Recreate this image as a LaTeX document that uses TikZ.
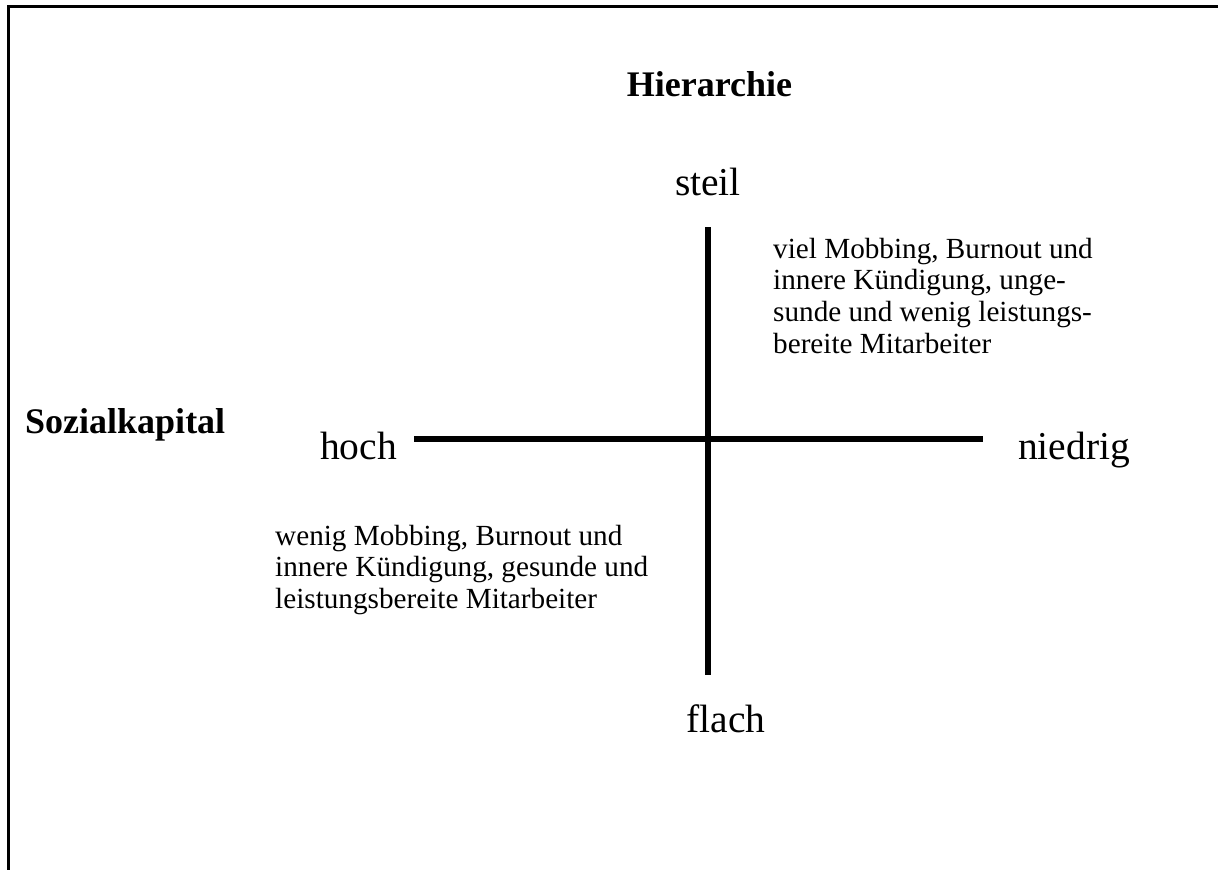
\documentclass[tikz,border=0pt]{standalone}
\usepackage{fontspec}
\setmainfont{Liberation Serif}
\begin{document}
\begin{tikzpicture}[x=1pt,y=-1pt,
  frame/.style={line width=2.5pt},
  axis/.style={line width=6pt},
  title/.style={inner sep=0pt,font=\fontsize{36}{40}\selectfont\bfseries},
  pole/.style={inner sep=0pt,font=\fontsize{39.5}{44}\selectfont},
  para/.style={inner sep=0pt,font=\fontsize{29.2}{31.7}\selectfont}]
\useasboundingbox (0,0) rectangle (1218,870);
% frame (top and left edges only)
\coordinate (fTL) at (8.5,6.3);
\coordinate (fTR) at (1220,6.3);
\coordinate (fBL) at (8.5,872);
\draw[frame] (fTR) -- (fTL) -- (fBL);
% titles
\node[title,anchor=base] (hier) at (709.5,96.7) {Hierarchie};
\node[title,anchor=base west] (sozial) at (25,433) {Sozialkapital};
% poles
\node[pole,anchor=base] (steil) at (708,195) {steil};
\node[pole,anchor=base] (flach) at (726,732) {flach};
\node[pole,anchor=base west] (hoch) at (320,459) {hoch};
\node[pole,anchor=base west] (niedrig) at (1018,459) {niedrig};
% axes
\coordinate (vtop) at (708.3,227);
\coordinate (vbot) at (708.3,675);
\coordinate (hleft) at (414,438.5);
\coordinate (hright) at (983,438.5);
\draw[axis] (vtop) -- (vbot);
\draw[axis] (hleft) -- (hright);
% paragraphs
\node[para,anchor=base west] (upper) at (773,258) {\begin{tabular}[t]{@{}l@{}}viel Mobbing, Burnout und\\innere Kündigung, unge-\\sunde und wenig leistungs-\\bereite Mitarbeiter\end{tabular}};
\node[para,anchor=base west] (lower) at (275,545) {\begin{tabular}[t]{@{}l@{}}wenig Mobbing, Burnout und\\innere Kündigung, gesunde und\\leistungsbereite Mitarbeiter\end{tabular}};
\end{tikzpicture}
\end{document}
